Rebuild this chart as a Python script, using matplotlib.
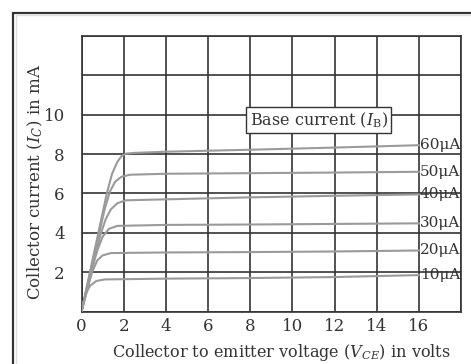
import matplotlib
matplotlib.use("Agg")
import matplotlib.pyplot as plt
from matplotlib.patches import Rectangle

plt.rcParams['font.family'] = ['DejaVu Serif']
plt.rcParams['mathtext.fontset'] = 'dejavuserif'

# Base current labels and curves (Vce in volts, Ic in mA)
base_labels = ['60μA', '50μA', '40μA', '30μA', '20μA', '10μA']

vce_60 = [0, 0.4, 0.8, 1.2, 1.45, 1.7, 1.9, 2.1, 2.5, 4, 8, 12, 16]
ic_60 = [0, 2.0, 4.0, 6.0, 7.0, 7.6, 7.9, 8.02, 8.06, 8.12, 8.22, 8.33, 8.45]

vce_50 = [0, 0.4, 0.8, 1.1, 1.35, 1.6, 1.9, 2.3, 4, 8, 12, 16]
ic_50 = [0, 1.9, 3.8, 5.2, 6.1, 6.6, 6.85, 6.95, 7.0, 7.03, 7.06, 7.1]

vce_40 = [0, 0.45, 0.9, 1.15, 1.4, 1.7, 2.1, 4, 8, 12, 16]
ic_40 = [0, 2.0, 3.9, 4.7, 5.2, 5.5, 5.65, 5.7, 5.8, 5.88, 5.95]

vce_30 = [0, 0.45, 0.75, 1.0, 1.3, 1.7, 4, 8, 12, 16]
ic_30 = [0, 2.0, 3.1, 3.8, 4.2, 4.35, 4.4, 4.42, 4.45, 4.48]

vce_20 = [0, 0.25, 0.5, 0.75, 1.0, 1.4, 4, 8, 12, 16]
ic_20 = [0, 1.0, 2.0, 2.6, 2.85, 2.97, 3.0, 3.02, 3.05, 3.1]

vce_10 = [0, 0.2, 0.4, 0.7, 1.1, 4, 8, 12, 16]
ic_10 = [0, 0.9, 1.3, 1.55, 1.63, 1.67, 1.7, 1.75, 1.85]

curves = [(vce_60, ic_60), (vce_50, ic_50), (vce_40, ic_40),
          (vce_30, ic_30), (vce_20, ic_20), (vce_10, ic_10)]

x_ticks = [0, 2, 4, 6, 8, 10, 12, 14, 16]
y_ticks = [2, 4, 6, 8, 10]

fig = plt.figure(figsize=(4.71, 3.64), dpi=100)
ax = fig.add_axes([81.5 / 471, 1 - 311.5 / 364, 379.5 / 471, 275.5 / 364])

# outer frame of the figure panel
fig.add_artist(Rectangle((13 / 471, -0.1), 1.2, 1 - 12.5 / 364 + 0.1,
                         transform=fig.transFigure, fill=False,
                         edgecolor='#333333', lw=1.6))
fig.add_artist(Rectangle((15.5 / 471, -0.1), 1.2, 1 - 15.5 / 364 + 0.1,
                         transform=fig.transFigure, fill=False,
                         edgecolor='#dddddd', lw=1.0))

for (v, i), lab in zip(curves, base_labels):
    ax.plot(v, i, color='#9a9a9a', lw=1.5, solid_joinstyle='round', zorder=3)
    ax.text(v[-1] + 0.05, i[-1], lab, fontsize=11, va='center', ha='left',
            color='#333333', zorder=4)

ax.set_xlim(0, 18)
ax.set_ylim(0, 14)
ax.set_xticks(range(0, 19, 2))
ax.set_yticks(range(0, 15, 2))
ax.grid(True, color='#333333', lw=1.2, zorder=1)
ax.set_axisbelow(True)
for s in ax.spines.values():
    s.set_color('#333333')
    s.set_linewidth(1.2)
ax.tick_params(length=0, labelsize=12, colors='#333333')
ax.set_xticklabels([str(t) if t in x_ticks else '' for t in range(0, 19, 2)])
ax.set_yticklabels([str(t) if t in y_ticks else '' for t in range(0, 15, 2)])
ax.tick_params(axis='y', pad=12)
ax.tick_params(axis='x', pad=5)

ax.text(11.25, 9.72, 'Base current ($I_{\\rm B}$)', fontsize=11.5, ha='center',
        va='center', color='#333333', zorder=5,
        bbox=dict(boxstyle='square,pad=0.22', fc='white', ec='#333333', lw=1))

ax.set_xlabel('Collector to emitter voltage ($V_{CE}$) in volts', fontsize=11.6,
              color='#333333')
ax.set_ylabel('Collector current ($I_C$) in mA', fontsize=12,
              color='#333333')
ax.xaxis.set_label_coords(0.526, -0.11)
ax.yaxis.set_label_coords(-0.095, 0.47)

fig.savefig('out.png', dpi=100)
